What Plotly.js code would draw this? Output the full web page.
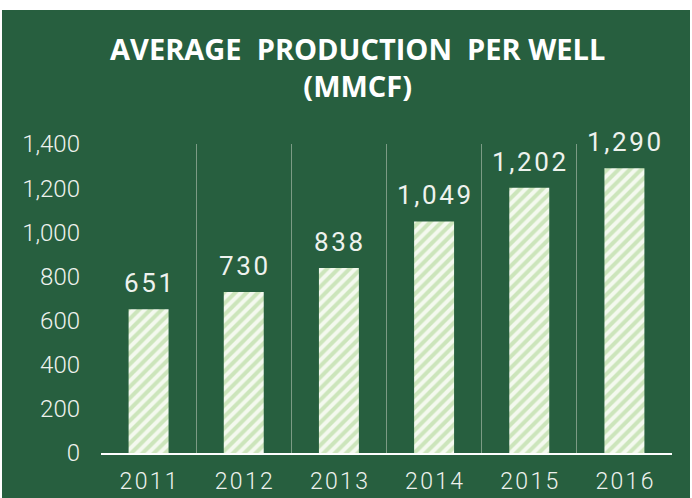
<!DOCTYPE html>
<html>
<head>
<meta charset="utf-8">
<script src="https://cdn.plot.ly/plotly-3.0.1.min.js"></script>
<style>
  body { margin: 0; background: #ffffff; }
  #chart { position: absolute; left: 2px; top: 10px; width: 688px; height: 488px; }
</style>
</head>
<body>
<div id="chart"></div>
<script>
const years = ["2011", "2012", "2013", "2014", "2015", "2016"];
const production = [651, 730, 838, 1049, 1202, 1290];
const yTicks = [0, 200, 400, 600, 800, 1000, 1200, 1400];

const green = "#275f3f";
const ink = "#eef2ee";

// Excel-style letter spacing
const spaced = s => s.split("").join("\u200a");
const fmt = v => v.toLocaleString("en-US");
const cats = years.map(spaced);

const bars = {
    type: "bar",
    x: cats,
    y: production,
    width: 0.42,
    marker: {
        color: "#f4f9ef",
        line: { width: 0 },
        pattern: { shape: "/", fgcolor: "#cce5bb", bgcolor: "#f4f9ef", size: 8, solidity: 0.5 }
    },
    hoverinfo: "x+y"
};

const labels = cats.map((x, i) => ({
    x, y: production[i],
    text: spaced(fmt(production[i])),
    showarrow: false,
    yanchor: "bottom",
    yshift: 9,
    font: { family: "Roboto", size: 26, color: ink }
}));

Plotly.newPlot("chart", [bars], {
    paper_bgcolor: green,
    plot_bgcolor: green,
    width: 688,
    height: 488,
    margin: { l: 99, r: 18, t: 134, b: 45 },
    showlegend: false,
    title: {
        text: "AVERAGE  PRODUCTION  PER WELL<br>(MMCF)",
        font: { family: "Open Sans", size: 29, color: "#ffffff", weight: 700 },
        xref: "container", x: 0.517, xanchor: "center",
        yref: "container", y: 0.898, yanchor: "top"
    },
    xaxis: {
        type: "category",
        tickson: "boundaries",
        ticks: "",
        showgrid: true,
        gridcolor: "#7c9b85",
        gridwidth: 1,
        showline: true,
        linecolor: "#ffffff",
        linewidth: 2,
        ticklabelstandoff: 6,
        tickfont: { family: "Roboto", size: 23, color: ink, weight: 300 },
        fixedrange: true
    },
    yaxis: {
        range: [0, 1400],
        tickvals: yTicks,
        ticktext: yTicks.map(fmt),
        showgrid: false,
        zeroline: false,
        showline: false,
        ticks: "",
        ticklabelstandoff: 20,
        tickfont: { family: "Roboto", size: 24, color: ink, weight: 300 },
        fixedrange: true
    },
    annotations: labels
}, { displayModeBar: false, staticPlot: true });
</script>
</body>
</html>
